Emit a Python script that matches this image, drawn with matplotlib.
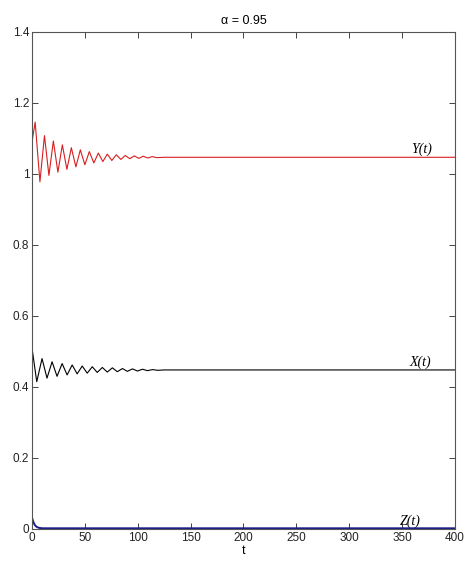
import numpy as np
import matplotlib
matplotlib.use("Agg")
import matplotlib.pyplot as plt

# values (extrema of the damped oscillations)
t_y = [0, 3, 7.5, 11.8, 16, 20.2, 24.5, 28.7, 33, 37.2, 41.5, 45.7, 50, 54.2,
       58.5, 62.7, 67, 71.2, 75.5, 79.7, 84, 88.2, 92.5, 96.7, 101, 105.2,
       109.5, 113.7, 118, 125, 400]
y_vals = [1.09, 1.146, 0.978, 1.108, 0.996, 1.093, 1.005, 1.082, 1.013, 1.074,
          1.020, 1.068, 1.026, 1.063, 1.031, 1.059, 1.035, 1.056, 1.038, 1.054,
          1.041, 1.052, 1.043, 1.051, 1.044, 1.050, 1.045, 1.049, 1.046, 1.047,
          1.047]

t_x = [0, 4.5, 9.5, 14.2, 19, 23.7, 28.5, 33.2, 38, 42.7, 47.5, 52.2, 57,
       61.7, 66.5, 71.2, 76, 80.7, 85.5, 90.2, 95, 99.7, 104.5, 109.2, 114,
       118.7, 125, 400]
x_vals = [0.51, 0.415, 0.480, 0.425, 0.471, 0.430, 0.466, 0.434, 0.462, 0.437,
          0.459, 0.439, 0.457, 0.441, 0.455, 0.442, 0.454, 0.443, 0.452, 0.444,
          0.451, 0.445, 0.450, 0.446, 0.449, 0.447, 0.448, 0.448]

t_z = [0, 1, 2, 3, 4, 5, 7, 10, 400]
z_vals = [0.032, 0.022, 0.015, 0.010, 0.007, 0.005, 0.003, 0.002, 0.002]

xticks = [0, 50, 100, 150, 200, 250, 300, 350, 400]
yticks = [0, 0.2, 0.4, 0.6, 0.8, 1.0, 1.2, 1.4]
ytick_labels = ["0", "0.2", "0.4", "0.6", "0.8", "1", "1.2", "1.4"]

plt.rcParams['font.family'] = ['Liberation Sans', 'DejaVu Sans']

fig = plt.figure(figsize=(4.65, 5.63), dpi=100)
ax = fig.add_axes([0.0688, 0.0604, 0.9097, 0.8828])

ax.plot(t_y, y_vals, color='#d81e1e', lw=0.8)
ax.plot(t_x, x_vals, color='black', lw=0.8)
ax.plot(t_z, z_vals, color='#1c1c8c', lw=1.4)

ax.set_xlim(0, 400)
ax.set_ylim(0, 1.4)
ax.set_xticks(xticks)
ax.set_yticks(yticks)
ax.set_yticklabels(ytick_labels)
ax.tick_params(direction='in', top=True, right=True, length=4, width=0.6,
               labelsize=8.5, colors='#222222', pad=2)
for s in ax.spines.values():
    s.set_linewidth(0.8)
    s.set_color('#555555')

lab = dict(family='Liberation Serif', style='italic', fontsize=10, ha='left', va='bottom')
ax.text(359, 1.050, 'Y(t)', **lab)
ax.text(357, 0.450, 'X(t)', **lab)
ax.text(348, 0.003, 'Z(t)', **lab)

ax.set_title('\u03b1 = 0.95', fontsize=9, pad=6)
ax.set_xlabel('t', fontsize=9, labelpad=1)

fig.savefig('out.png', dpi=100)
